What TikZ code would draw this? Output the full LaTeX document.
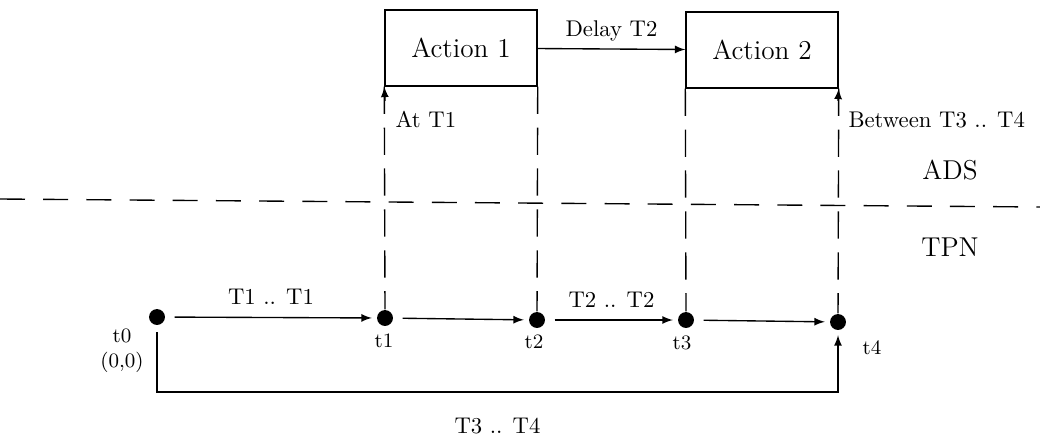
\documentclass[tikz,border=0pt]{standalone}
\usepackage{amsmath, amssymb}
\usepackage{tikz}
\usetikzlibrary{arrows}

\begin{document}
\begin{tikzpicture}[x=0.44pt, y=-0.44pt, semithick, >=latex,
	action/.style={draw, minimum width=66.9pt, minimum height=33.4pt, font=\large},
	event/.style={circle, fill, inner sep=0pt, minimum size=7pt},
	vdash/.style={dash pattern=on 12pt off 6pt},
	hdash/.style={dash pattern=on 11pt off 8pt},
	tlabel/.style={font=\small, inner sep=1pt}]
	\useasboundingbox (0,0) rectangle (1040,441);
	\node [action] (a1) at (461,48) { Action 1 };
	\node [action] (a2) at (762,50) { Action 2 };
	\node [event] (t0) at (157,317) {};
	\node [event] (t1) at (385,318) {};
	\node [event] (t2) at (537,320) {};
	\node [event] (t3) at (686,320) {};
	\node [event] (t4) at (838,322) {};
	\node [tlabel, align=center] (l0) at (122,351) { t0 \\ (0,0) };
	\node [tlabel] (l1) at (384,341) { t1 };
	\node [tlabel] (l2) at (534,342) { t2 };
	\node [tlabel] (l3) at (682,343) { t3 };
	\node [tlabel] (l4) at (872,348) { t4 };
	\node [font=\large] (ads) at (950,170) { ADS };
	\node [font=\large] (tpn) at (950,247) { TPN };
	\coordinate (s1) at (385,101);
	\coordinate (s2) at (838,101);
	\coordinate (c0) at (157,392);
	\coordinate (c4) at (838,392);
	\coordinate (hl) at (0,199);
	\coordinate (hr) at (1040,207);
	\draw [hdash] (hl) -- (hr);
	\draw [vdash] (a1.south west) -- (t1);
	\draw [vdash] (a1.south east) -- (t2);
	\draw [vdash] (a2.south west) -- (t3);
	\draw [vdash] (a2.south east) -- (t4);
	\draw [ -> ] (a1) to 
		node [above] { Delay T2 } 
		(a2);
	\draw [ -> ] (s1) to 
		node [pos=0, anchor=north west, xshift=1pt, yshift=-1pt] { At T1 }
		(a1.south west);
	\draw [ -> ] (s2) to 
		node [pos=0, anchor=north west, xshift=1pt, yshift=-1pt] { Between T3 .. T4 }
		(a2.south east);
	\draw [ ->, shorten <=4pt, shorten >=2pt ] (t0) to 
		node [above, yshift=2pt] { T1 .. T1 } 
		(t1);
	\draw [ ->, shorten <=4pt, shorten >=2pt ] (t1) to (t2);
	\draw [ ->, shorten <=4pt, shorten >=2pt ] (t2) to 
		node [above, yshift=2pt] { T2 .. T2 } 
		(t3);
	\draw [ ->, shorten <=4pt, shorten >=2pt ] (t3) to (t4);
	\draw [ ->, shorten <=3pt, shorten >=2pt ] (t0) -- (c0) -- 
		node [midway, yshift=-15pt] { T3 .. T4 } 
		(c4) -- (t4);
\end{tikzpicture}
\end{document}
